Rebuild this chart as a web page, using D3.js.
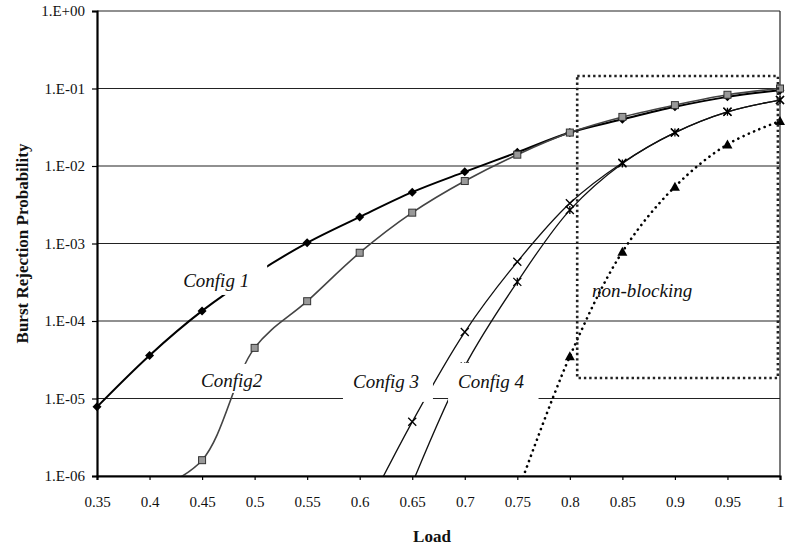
<!DOCTYPE html>
<html>
<head>
<meta charset="utf-8">
<script src="https://cdn.jsdelivr.net/npm/d3@7"></script>
<style>
  body { margin: 0; background: #fff; }
  text { font-family: "Liberation Serif", "Times New Roman", serif; fill: #111; }
</style>
</head>
<body>
<div id="chart"></div>
<script>
// Burst rejection probability vs. load, log scale, four configs plus non-blocking

const loads = [0.35, 0.4, 0.45, 0.5, 0.55, 0.6, 0.65, 0.7, 0.75, 0.8, 0.85, 0.9, 0.95, 1];
const config1 = [7.8e-6, 3.6e-5, 1.35e-4, 4.0e-4, 1.02e-3, 2.2e-3, 4.6e-3, 8.4e-3, 1.5e-2, 2.7e-2, 4.0e-2, 5.8e-2, 7.8e-2, 9.5e-2];
const config2 = [null, 6e-7, 1.6e-6, 4.5e-5, 1.8e-4, 7.6e-4, 2.5e-3, 6.4e-3, 1.4e-2, 2.7e-2, 4.3e-2, 6.1e-2, 8.3e-2, 1.0e-1];
const config3 = [null, null, null, null, null, 2.5e-7, 5.0e-6, 7.2e-5, 5.8e-4, 3.3e-3, 1.1e-2, 2.7e-2, 5.0e-2, 7.1e-2];
const config4 = [null, null, null, null, null, null, 8e-7, 2.6e-5, 3.2e-4, 2.7e-3, 1.08e-2, 2.7e-2, 5.0e-2, 7.1e-2];
const nonBlocking = [null, null, null, null, null, null, null, null, 6e-7, 3.5e-5, 7.8e-4, 5.4e-3, 1.9e-2, 3.8e-2];

const xTicks = [0.35, 0.4, 0.45, 0.5, 0.55, 0.6, 0.65, 0.7, 0.75, 0.8, 0.85, 0.9, 0.95, 1];
const xTickLabels = ["0.35", "0.4", "0.45", "0.5", "0.55", "0.6", "0.65", "0.7", "0.75", "0.8", "0.85", "0.9", "0.95", "1"];
const yTicks = [1, 1e-1, 1e-2, 1e-3, 1e-4, 1e-5, 1e-6];
const yTickLabels = ["1.E+00", "1.E-01", "1.E-02", "1.E-03", "1.E-04", "1.E-05", "1.E-06"];

// zoomed region drawn as dotted rectangle (load range, probability range)
const zoomLoads = [0.807, 0.998];
const zoomProbs = [1.84e-5, 0.145];

const width = 785, height = 552;
const padding = {top: 11, right: 5, bottom: 76, left: 97};

const svg = d3.select("#chart").append("svg")
    .attr("width", width)
    .attr("height", height);

const xScale = d3.scaleLinear()
    .domain([0.35, 1])
    .range([padding.left, width - padding.right]);

const yScale = d3.scaleLog()
    .domain([1e-6, 1])
    .range([height - padding.bottom, padding.top]);

const x0 = xScale.range()[0], x1 = xScale.range()[1];
const yBottom = yScale.range()[0], yTop = yScale.range()[1];

// clip the curves to the plot area
svg.append("clipPath").attr("id", "plotClip")
  .append("rect")
    .attr("x", x0).attr("y", yTop)
    .attr("width", x1 - x0).attr("height", yBottom - yTop);

// horizontal gridlines
svg.append("g")
  .selectAll("line")
  .data(yTicks)
  .enter().append("line")
    .attr("x1", x0).attr("x2", x1)
    .attr("y1", d => yScale(d)).attr("y2", d => yScale(d))
    .attr("stroke", "#222")
    .attr("stroke-width", 1.2);

// right border
svg.append("line")
    .attr("x1", x1).attr("x2", x1)
    .attr("y1", yTop).attr("y2", yBottom)
    .attr("stroke", "#222")
    .attr("stroke-width", 1.2);

const series = [
  {values: config1, color: "#000", width: 2, dash: null, marker: "diamond"},
  {values: config2, color: "#444", width: 1.6, dash: null, marker: "square"},
  {values: config3, color: "#111", width: 1.3, dash: null, marker: "x"},
  {values: config4, color: "#111", width: 1.3, dash: null, marker: "star"},
  {values: nonBlocking, color: "#000", width: 2.6, dash: "0.1,5.6", marker: "triangle"}
];

const line = d3.line()
    .defined(d => d[1] != null)
    .x(d => xScale(d[0]))
    .y(d => yScale(d[1]))
    .curve(d3.curveCatmullRom.alpha(0.5));

const plot = svg.append("g").attr("clip-path", "url(#plotClip)");

series.forEach(s => {
  const pts = loads.map((l, i) => [l, s.values[i]]);
  plot.append("path")
      .datum(pts)
      .attr("d", line)
      .attr("fill", "none")
      .attr("stroke", s.color)
      .attr("stroke-width", s.width)
      .attr("stroke-linecap", "round")
      .attr("stroke-dasharray", s.dash);
});

// markers
series.forEach(s => {
  const pts = loads.map((l, i) => [l, s.values[i]]).filter(d => d[1] != null && d[1] >= 1e-6);
  const g = svg.append("g");
  pts.forEach(d => {
    const cx = xScale(d[0]), cy = yScale(d[1]);
    if (s.marker === "diamond") {
      g.append("path")
          .attr("d", `M${cx},${cy - 4.5}L${cx + 4.5},${cy}L${cx},${cy + 4.5}L${cx - 4.5},${cy}Z`)
          .attr("fill", "#000");
    } else if (s.marker === "square") {
      g.append("rect")
          .attr("x", cx - 3.5).attr("y", cy - 3.5)
          .attr("width", 7).attr("height", 7)
          .attr("fill", "#999")
          .attr("stroke", "#333")
          .attr("stroke-width", 1);
    } else if (s.marker === "x" || s.marker === "star") {
      g.append("path")
          .attr("d", `M${cx - 4},${cy - 4}L${cx + 4},${cy + 4}M${cx - 4},${cy + 4}L${cx + 4},${cy - 4}` +
                (s.marker === "star" ? `M${cx},${cy - 4}L${cx},${cy + 4}` : ""))
          .attr("stroke", "#000")
          .attr("stroke-width", 1.3);
    } else if (s.marker === "triangle") {
      g.append("path")
          .attr("d", `M${cx},${cy - 5}L${cx + 5},${cy + 4}L${cx - 5},${cy + 4}Z`)
          .attr("fill", "#000");
    }
  });
});

// series labels, each on a white box that hides the lines behind it
const labels = [
  {text: "Config 1", load: 0.432, prob: 2.75e-4, pad: [6, 6, 18, 4]},
  {text: "Config2", load: 0.449, prob: 1.41e-5, pad: [6, 6, 6, 2]},
  {text: "Config 3", load: 0.5936, prob: 1.37e-5, pad: [10, 2, 14, 10]},
  {text: "Config 4", load: 0.6936, prob: 1.37e-5, pad: [10, 8, 14, 10]},
  {text: "non-blocking", load: 0.821, prob: 2.04e-4, pad: null}
];

labels.forEach(lb => {
  const g = svg.append("g");
  const rect = g.append("rect").attr("fill", "#fff");
  const t = g.append("text")
      .attr("x", xScale(lb.load))
      .attr("y", yScale(lb.prob))
      .style("font-size", "19px")
      .style("font-style", "italic")
      .text(lb.text);
  if (lb.pad) {
    const b = t.node().getBBox();
    // pad = [left, top, right, bottom]
    rect.attr("x", b.x - lb.pad[0])
        .attr("y", b.y - lb.pad[1])
        .attr("width", b.width + lb.pad[0] + lb.pad[2])
        .attr("height", b.height + lb.pad[1] + lb.pad[3]);
  } else {
    rect.remove();
  }
});

// dotted box around the high-load region
svg.append("rect")
    .attr("x", xScale(zoomLoads[0]))
    .attr("y", yScale(zoomProbs[1]))
    .attr("width", xScale(zoomLoads[1]) - xScale(zoomLoads[0]))
    .attr("height", yScale(zoomProbs[0]) - yScale(zoomProbs[1]))
    .attr("fill", "none")
    .attr("stroke", "#222")
    .attr("stroke-width", 2.6)
    .attr("stroke-dasharray", "2.4,2.9");

// axes
const xAxis = svg.append("g")
    .attr("transform", "translate(0," + yBottom + ")")
    .call(d3.axisBottom(xScale)
      .tickValues(xTicks)
      .tickFormat((d, i) => xTickLabels[i])
      .tickSize(4)
      .tickPadding(16));
xAxis.select(".domain").attr("stroke", "#000").attr("stroke-width", 2.2);
xAxis.selectAll(".tick line").attr("stroke", "#000").attr("stroke-width", 1.2);
xAxis.selectAll(".tick text")
    .style("font-size", "15px")
    .style("font-family", "'Liberation Serif', serif")
    .attr("fill", "#111");

const yAxis = svg.append("g")
    .attr("transform", "translate(" + x0 + ",0)")
    .call(d3.axisLeft(yScale)
      .tickValues(yTicks)
      .tickFormat((d, i) => yTickLabels[i])
      .tickSize(5)
      .tickPadding(7));
yAxis.select(".domain").attr("stroke", "#000").attr("stroke-width", 2.2);
yAxis.selectAll(".tick line").attr("stroke", "#000").attr("stroke-width", 1.2);
yAxis.selectAll(".tick text")
    .style("font-size", "15px")
    .style("font-family", "'Liberation Serif', serif")
    .attr("fill", "#111");

// axis titles
svg.append("text")
    .attr("x", 432)
    .attr("y", 542)
    .style("text-anchor", "middle")
    .style("font-size", "17px")
    .style("font-weight", "bold")
    .text("Load");

svg.append("text")
    .attr("transform", "rotate(-90)")
    .attr("x", -(yTop + yBottom) / 2)
    .attr("y", 28)
    .style("text-anchor", "middle")
    .style("font-size", "17px")
    .style("font-weight", "bold")
    .text("Burst Rejection Probability");
</script>
</body>
</html>
